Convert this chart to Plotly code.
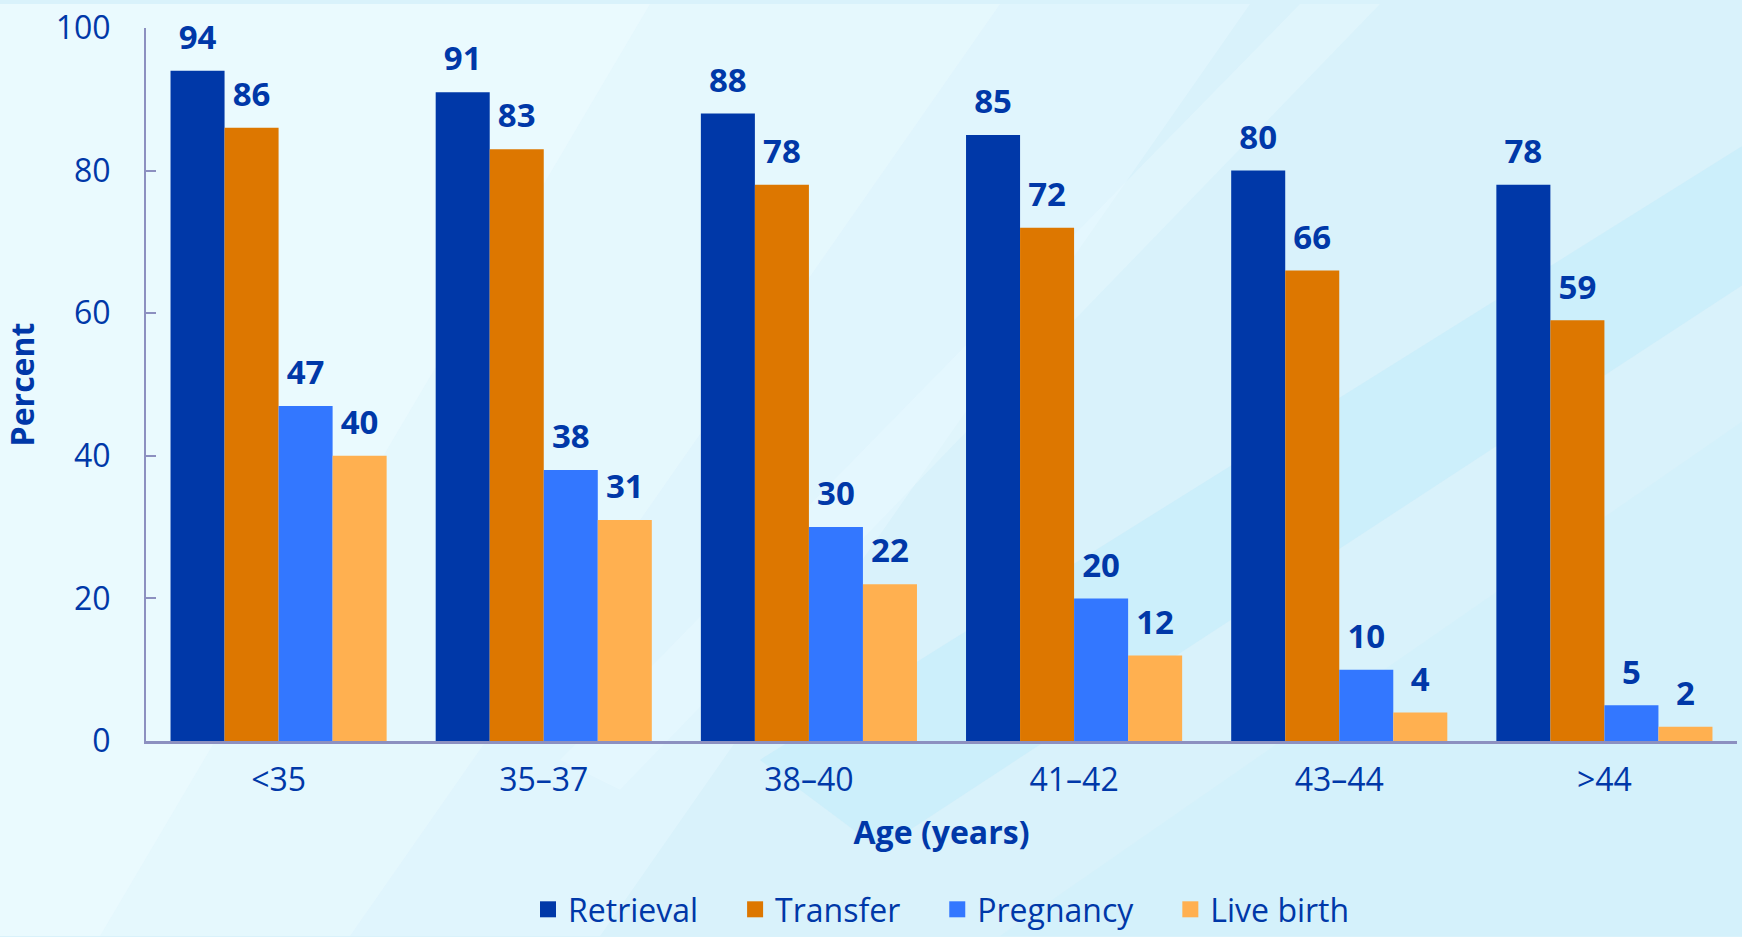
import plotly.graph_objects as go

# data
ages = ['<35', '35\u201337', '38\u201340', '41\u201342', '43\u201344', '>44']
retrieval = [94, 91, 88, 85, 80, 78]
transfer = [86, 83, 78, 72, 66, 59]
pregnancy = [47, 38, 30, 20, 10, 5]
live_birth = [40, 31, 22, 12, 4, 2]

series = [
    ('Retrieval', retrieval, '#0038a8'),
    ('Transfer', transfer, '#dd7700'),
    ('Pregnancy', pregnancy, '#3377ff'),
    ('Live birth', live_birth, '#ffb050'),
]

TXT = '#0038a8'
FONT = 'Open Sans'
BG = '#d9f2fb'
W, H = 1742, 937
L, R, T, B = 146, 5, 24, 196
pw, ph = W - L - R, H - T - B


def px(x, y):
    # page pixel -> paper coords of the plot area
    return (x - L) / pw, (H - B - y) / ph


def poly(pts, color):
    p = [px(x, y) for x, y in pts]
    path = 'M' + ' L'.join(f'{a:.4f},{b:.4f}' for a, b in p) + ' Z'
    return dict(type='path', path=path, xref='paper', yref='paper',
                fillcolor=color, line=dict(width=0), layer='below')


fig = go.Figure()
for i, (name, vals, col) in enumerate(series):
    # legend label padding so the entries spread like the original
    label = name if i == len(series) - 1 else name + '\u2002\u2002'
    fig.add_trace(go.Bar(x=ages, y=vals, name=label, marker_color=col,
                         marker_line_width=0, offsetgroup=str(i), showlegend=False))
    fig.add_trace(go.Scatter(x=[None], y=[None], name=label, mode='markers',
                             marker=dict(symbol='square', size=20, color=col)))
for i, (name, vals, col) in enumerate(series):
    fig.add_trace(go.Scatter(x=ages, y=vals, mode='markers+text', text=[str(v) for v in vals],
                             textposition='top center', offsetgroup=str(i),
                             marker=dict(size=20, opacity=0), showlegend=False, hoverinfo='skip',
                             textfont=dict(family=FONT, size=33, color=TXT, weight='bold'),
                             cliponaxis=False))

# soft diagonal light/dark bands of the backdrop
bg_shapes = [
    poly([(0, 0), (1250, 0), (600, 937), (0, 937)], 'rgba(232,249,254,0.45)'),
    poly([(0, 0), (1000, 0), (350, 937), (0, 937)], 'rgba(234,250,254,0.55)'),
    poly([(0, 0), (650, 0), (100, 937), (0, 937)], 'rgba(240,252,255,0.5)'),
    poly([(560, 760), (1300, 0), (1380, 0), (620, 790)], 'rgba(236,250,254,0.4)'),
    poly([(1000, 937), (1742, 420), (1742, 937)], 'rgba(200,238,251,0.25)'),
    poly([(760, 760), (1742, 143), (1742, 283), (880, 850)], 'rgba(192,236,251,0.5)'),
]

fig.update_layout(
    width=W, height=H,
    margin=dict(l=L, r=R, t=T, b=B),
    paper_bgcolor=BG, plot_bgcolor='rgba(0,0,0,0)',
    barmode='group', bargap=0.185, bargroupgap=0,
    scattermode='group', scattergap=0.185,
    font=dict(family=FONT, size=32, color=TXT),
    shapes=bg_shapes,
    showlegend=True,
    legend=dict(orientation='h', x=0.5, xanchor='center', xref='paper',
                y=0, yanchor='bottom', yref='container',
                font=dict(size=32, color=TXT), bgcolor='rgba(0,0,0,0)',
                itemwidth=30, tracegroupgap=0),
)
fig.update_yaxes(range=[0, 100], tickvals=[0, 20, 40, 60, 80, 100], showgrid=False, zeroline=False,
                 showline=True, linecolor='#8c90c0', linewidth=2,
                 ticks='inside', ticklen=10, tickcolor='#8c90c0', tickwidth=2,
                 ticklabelstandoff=27,
                 title=dict(text='<b>Percent</b>', font=dict(size=32, color=TXT), standoff=26))
fig.update_xaxes(showgrid=False, showline=True, linecolor='#8c90c0', linewidth=3,
                 ticks='', ticklabelstandoff=9,
                 title=dict(text='<b>Age (years)</b>', font=dict(size=32, color=TXT), standoff=23))

fig.write_html('out.html', config={'displayModeBar': False},
               post_script=f"document.body.style.margin='0';document.body.style.background='{BG}';")
